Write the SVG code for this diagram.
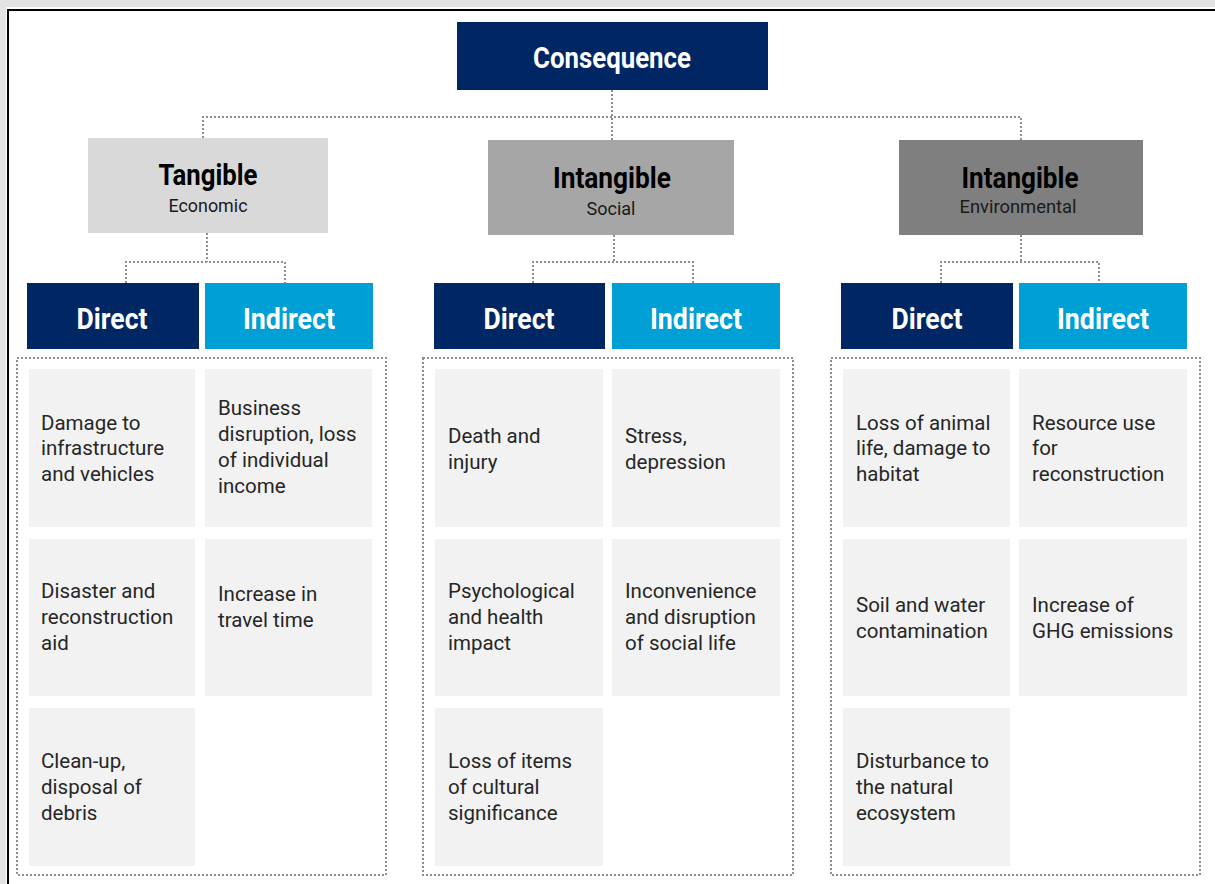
<svg xmlns="http://www.w3.org/2000/svg" width="1215" height="884" viewBox="0 0 1215 884">
<style>
.dot{fill:none;stroke:#8f8f8f;stroke-width:2;stroke-dasharray:2 2}
.cell{fill:#f2f2f2}
.body{font-family:Roboto,"Liberation Sans",sans-serif;font-size:20.5px;fill:#262626}
.h{font-family:Roboto,"Liberation Sans",sans-serif;font-weight:700;text-anchor:middle}
.sub{font-family:Roboto,"Liberation Sans",sans-serif;font-size:18px;fill:#1a1a1a;text-anchor:middle}
.dir{fill:#002663}
.ind{fill:#00a0d6}
.w{fill:#fff;font-size:29px}
.k{fill:#000;font-size:29px}
</style>
<rect x="0" y="0" width="1215" height="884" fill="#fff"/>
<rect x="0" y="0" width="1215" height="7" fill="#e3e3e3"/>
<rect x="0" y="0" width="6" height="884" fill="#e3e3e3"/>
<line x1="7" y1="10" x2="1215" y2="10" stroke="#000" stroke-width="2"/>
<line x1="8" y1="9" x2="8" y2="884" stroke="#000" stroke-width="2"/>

<g id="connectors">
<path class="dot" d="M612 90V140M203 138V117H1021V140"/>
<path class="dot" d="M207 233V262M126 283V262H285V283"/>
<path class="dot" d="M614 235V262M533 283V262H693V283"/>
<path class="dot" d="M1021 235V262M941 283V262H1099V283"/>
</g>

<g id="consequence">
<rect x="457" y="22" width="311" height="68" fill="#002663"/>
<text class="h w" x="612" y="68" textLength="158" lengthAdjust="spacingAndGlyphs">Consequence</text>
</g>

<g id="tangible">
<rect x="88" y="138" width="240" height="95" fill="#d9d9d9"/>
<text class="h k" x="208" y="185" textLength="99" lengthAdjust="spacingAndGlyphs">Tangible</text>
<text class="sub" x="208" y="212" textLength="79" lengthAdjust="spacingAndGlyphs">Economic</text>
</g>
<g id="intangible-social">
<rect x="488" y="140" width="246" height="95" fill="#a6a6a6"/>
<text class="h k" x="612" y="188" textLength="118" lengthAdjust="spacingAndGlyphs">Intangible</text>
<text class="sub" x="611" y="215" textLength="49" lengthAdjust="spacingAndGlyphs">Social</text>
</g>
<g id="intangible-env">
<rect x="899" y="140" width="244" height="95" fill="#7f7f7f"/>
<text class="h k" x="1020" y="188" textLength="117" lengthAdjust="spacingAndGlyphs">Intangible</text>
<text class="sub" x="1018" y="213" textLength="117" lengthAdjust="spacingAndGlyphs">Environmental</text>
</g>

<g id="econ-direct"><rect class="dir" x="27" y="283" width="172" height="66"/><text class="h w" x="112" y="329" textLength="71" lengthAdjust="spacingAndGlyphs">Direct</text></g>
<g id="econ-indirect"><rect class="ind" x="205" y="283" width="168" height="66"/><text class="h w" x="289" y="329" textLength="92" lengthAdjust="spacingAndGlyphs">Indirect</text></g>
<g id="social-direct"><rect class="dir" x="434" y="283" width="171" height="66"/><text class="h w" x="519" y="329" textLength="71" lengthAdjust="spacingAndGlyphs">Direct</text></g>
<g id="social-indirect"><rect class="ind" x="612" y="283" width="168" height="66"/><text class="h w" x="696" y="329" textLength="92" lengthAdjust="spacingAndGlyphs">Indirect</text></g>
<g id="env-direct"><rect class="dir" x="841" y="283" width="172" height="66"/><text class="h w" x="927" y="329" textLength="71" lengthAdjust="spacingAndGlyphs">Direct</text></g>
<g id="env-indirect"><rect class="ind" x="1019" y="283" width="168" height="66"/><text class="h w" x="1103" y="329" textLength="92" lengthAdjust="spacingAndGlyphs">Indirect</text></g>

<g id="containers">
<rect class="dot" x="17" y="358" width="369" height="517"/>
<rect class="dot" x="423" y="358" width="370" height="517"/>
<rect class="dot" x="831" y="358" width="369" height="517"/>
</g>

<g id="econ-d1"><rect class="cell" x="29" y="369" width="166" height="158"/><text class="body"><tspan x="41" y="430">Damage to</tspan><tspan x="41" y="455">infrastructure</tspan><tspan x="41" y="481">and vehicles</tspan></text></g>
<g id="econ-i1"><rect class="cell" x="205" y="369" width="167" height="158"/><text class="body"><tspan x="218" y="415">Business</tspan><tspan x="218" y="441">disruption, loss</tspan><tspan x="218" y="467">of individual</tspan><tspan x="218" y="493">income</tspan></text></g>
<g id="econ-d2"><rect class="cell" x="29" y="539" width="166" height="157"/><text class="body"><tspan x="41" y="598">Disaster and</tspan><tspan x="41" y="624">reconstruction</tspan><tspan x="41" y="650">aid</tspan></text></g>
<g id="econ-i2"><rect class="cell" x="205" y="539" width="167" height="157"/><text class="body"><tspan x="218" y="601">Increase in</tspan><tspan x="218" y="627">travel time</tspan></text></g>
<g id="econ-d3"><rect class="cell" x="29" y="708" width="166" height="158"/><text class="body"><tspan x="41" y="768">Clean-up,</tspan><tspan x="41" y="794">disposal of</tspan><tspan x="41" y="820">debris</tspan></text></g>

<g id="social-d1"><rect class="cell" x="435" y="369" width="168" height="158"/><text class="body"><tspan x="448" y="443">Death and</tspan><tspan x="448" y="469">injury</tspan></text></g>
<g id="social-i1"><rect class="cell" x="612" y="369" width="168" height="158"/><text class="body"><tspan x="625" y="443">Stress,</tspan><tspan x="625" y="469">depression</tspan></text></g>
<g id="social-d2"><rect class="cell" x="435" y="539" width="168" height="157"/><text class="body"><tspan x="448" y="598">Psychological</tspan><tspan x="448" y="624">and health</tspan><tspan x="448" y="650">impact</tspan></text></g>
<g id="social-i2"><rect class="cell" x="612" y="539" width="168" height="157"/><text class="body"><tspan x="625" y="598">Inconvenience</tspan><tspan x="625" y="624">and disruption</tspan><tspan x="625" y="650">of social life</tspan></text></g>
<g id="social-d3"><rect class="cell" x="435" y="708" width="168" height="158"/><text class="body"><tspan x="448" y="768">Loss of items</tspan><tspan x="448" y="794">of cultural</tspan><tspan x="448" y="820">significance</tspan></text></g>

<g id="env-d1"><rect class="cell" x="843" y="369" width="167" height="158"/><text class="body"><tspan x="856" y="430">Loss of animal</tspan><tspan x="856" y="455">life, damage to</tspan><tspan x="856" y="481">habitat</tspan></text></g>
<g id="env-i1"><rect class="cell" x="1019" y="369" width="168" height="158"/><text class="body"><tspan x="1032" y="430">Resource use</tspan><tspan x="1032" y="455">for</tspan><tspan x="1032" y="481">reconstruction</tspan></text></g>
<g id="env-d2"><rect class="cell" x="843" y="539" width="167" height="157"/><text class="body"><tspan x="856" y="612">Soil and water</tspan><tspan x="856" y="638">contamination</tspan></text></g>
<g id="env-i2"><rect class="cell" x="1019" y="539" width="168" height="157"/><text class="body"><tspan x="1032" y="612">Increase of</tspan><tspan x="1032" y="638">GHG emissions</tspan></text></g>
<g id="env-d3"><rect class="cell" x="843" y="708" width="167" height="158"/><text class="body"><tspan x="856" y="768">Disturbance to</tspan><tspan x="856" y="794">the natural</tspan><tspan x="856" y="820">ecosystem</tspan></text></g>
</svg>
